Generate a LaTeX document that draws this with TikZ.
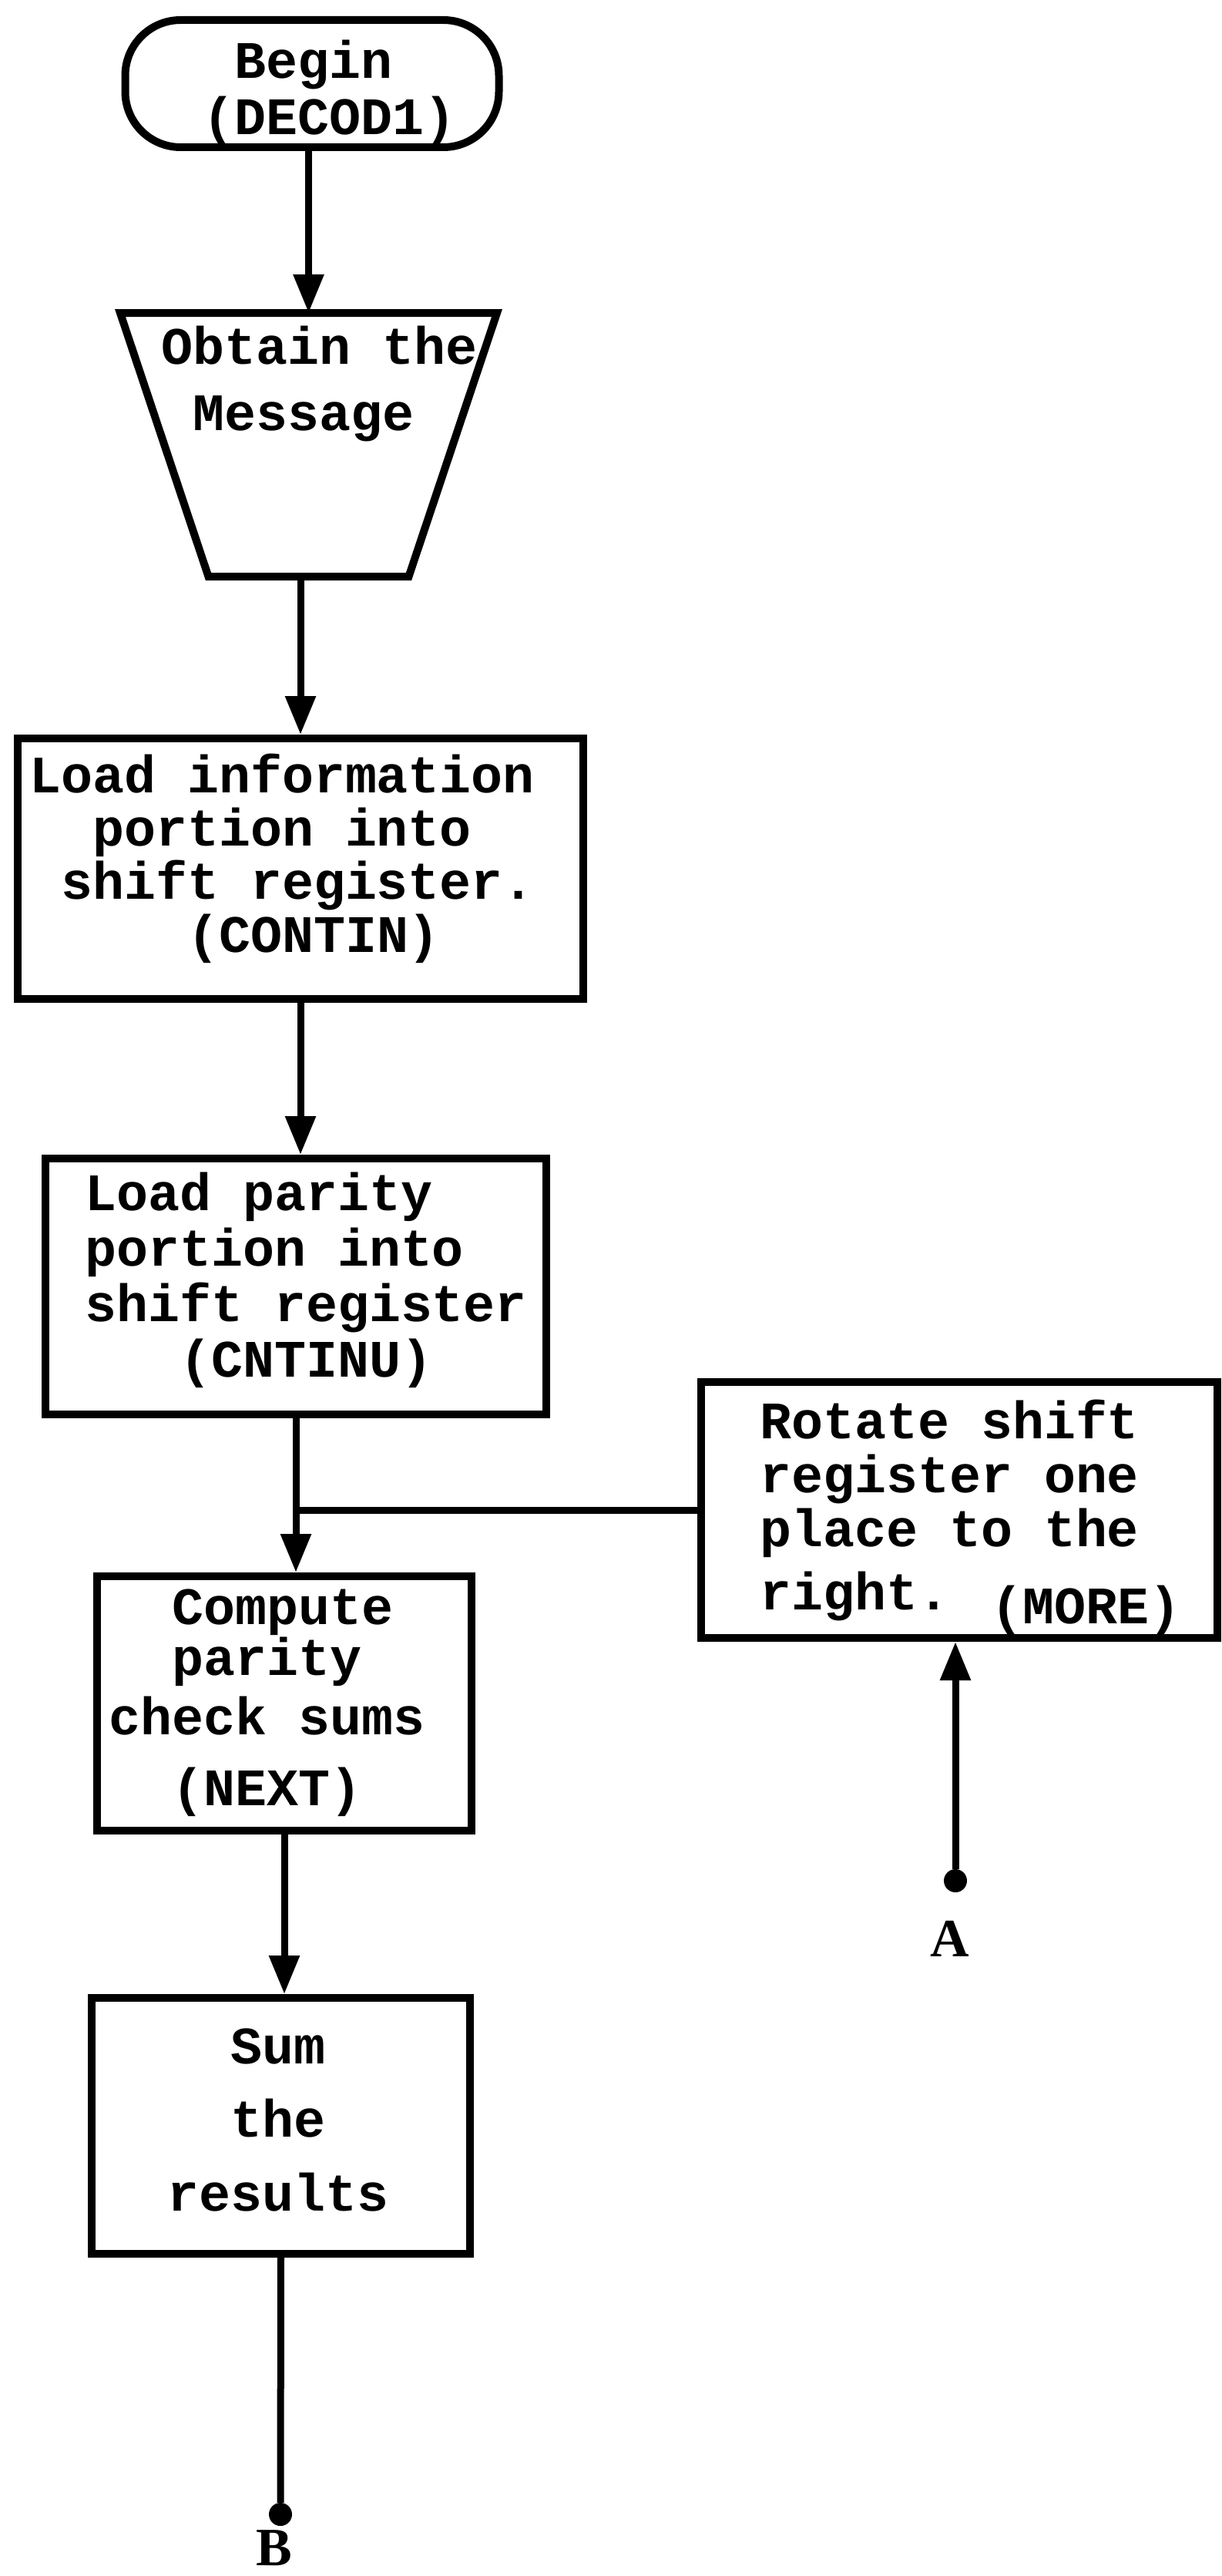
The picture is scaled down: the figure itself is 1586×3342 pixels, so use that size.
\documentclass[tikz,border=0pt]{standalone}
\usepackage{fontspec}
\usetikzlibrary{arrows.meta}
\newfontfamily\twfont{Liberation Mono}
\newfontfamily\lblfont{Liberation Serif}
% indent by a number of typewriter columns
\newcommand\ind[1]{\kern#1\fontcharwd\font`M\relax}
% stacked typewriter lines; the box baseline is that of the first line
\newcommand\tlines[2]{\vtop{\baselineskip=#1pt\lineskiplimit=-\maxdimen\lineskip=0pt\relax #2}}
\tikzset{
  boxline/.style={draw, line width=10pt},
  procbox/.style={boxline, rectangle, inner sep=0pt},
  conn/.style={line width=9pt, -{Triangle[length=50pt,width=38pt]}},
  plainline/.style={line width=9pt},
  txt/.style={font=\twfont\bfseries\fontsize{68.3}{73}\selectfont, inner sep=0pt, anchor=base west},
  lbl/.style={font=\lblfont\bfseries\fontsize{70}{74}\selectfont, inner sep=0pt, anchor=base},
  dot/.style={circle, fill, inner sep=0pt, minimum size=30pt}
}
\begin{document}
\begin{tikzpicture}[x=1pt,y=-1pt]
\useasboundingbox (0,0) rectangle (1586,3342);
\fill[white] (0,0) rectangle (1586,3342);

% start terminal
\node[boxline, rectangle, rounded corners=72pt, minimum width=485pt, minimum height=165pt] (term) at (405,108.5) {};
\node[txt] (termtext) at (263,102) {\tlines{73}{\hbox{\ind1Begin}\hbox{(DECOD1)}}};

% manual input (inverted trapezoid)
\node[minimum width=479pt, minimum height=332pt, outer sep=5pt, inner sep=0pt] (trap) at (400.5,577) {};
\draw[boxline] (trap.north west) -- (trap.north east) -- ([xshift=-114.5pt]trap.south east)
  -- ([xshift=114.5pt]trap.south west) -- cycle;
\node[txt] (traptext) at (209,472) {\tlines{86}{\hbox{Obtain the}\hbox{\ind1Message}}};

% process boxes
\node[procbox, minimum width=734pt, minimum height=338pt] (box1) at (390,1127) {};
\node[txt] (box1text) at (38,1028) {\tlines{69}{\hbox{Load information}\hbox{\ind2portion into}\hbox{\ind1shift register.}\hbox{\ind5(CONTIN)}}};

\node[procbox, minimum width=650pt, minimum height=332pt] (box2) at (384,1669) {};
\node[txt] (box2text) at (110,1570) {\tlines{72.3}{\hbox{Load parity}\hbox{portion into}\hbox{shift register}\hbox{\ind3(CNTINU)}}};

\node[procbox, minimum width=670pt, minimum height=332pt] (rot) at (1245,1959) {};
\node[txt] (rottext) at (986,1866) {\tlines{70}{\hbox{Rotate shift}\hbox{register one}\hbox{place to the}\vskip12pt\hbox{right. \raisebox{-18pt}{(MORE)}}}};

\node[procbox, minimum width=486pt, minimum height=330pt] (box3) at (369,2210) {};
\node[txt] (box3text) at (141,2107) {\tlines{66}{\hbox{\ind2Compute}\hbox{\ind2parity}\vskip11pt\hbox{check sums}\vskip26pt\hbox{\ind2(NEXT)}}};

\node[procbox, minimum width=491pt, minimum height=332pt] (box4) at (364.5,2758) {};
\node[txt] (box4text) at (217,2677) {\tlines{95.5}{\hbox{\ind2Sum}\hbox{\ind2the}\hbox{results}}};

% off-page connectors
\node[dot] (dotA) at (1240,2440) {};
\node[lbl] (labA) at (1233,2538) {A};
\node[dot] (dotB) at (364,3262) {};
\node[lbl] (labB) at (356,3328) {B};

% flow lines
\draw[conn] (term.south -| trap.north) -- (trap.north);
\draw[conn] (trap.south -| box1.north) -- (box1.north);
\draw[conn] (box1.south) -- (box1.south |- box2.north);
\draw[conn] (box2.south) -- (box2.south |- box3.north);
\draw[plainline] (rot.west) -- (rot.west -| box2.south);
\draw[conn] (box3.south) -- (box3.south |- box4.north);
\draw[plainline] (box4.south) -- (dotB);
\draw[conn] (dotA) -- (dotA |- rot.south);
\end{tikzpicture}
\end{document}
